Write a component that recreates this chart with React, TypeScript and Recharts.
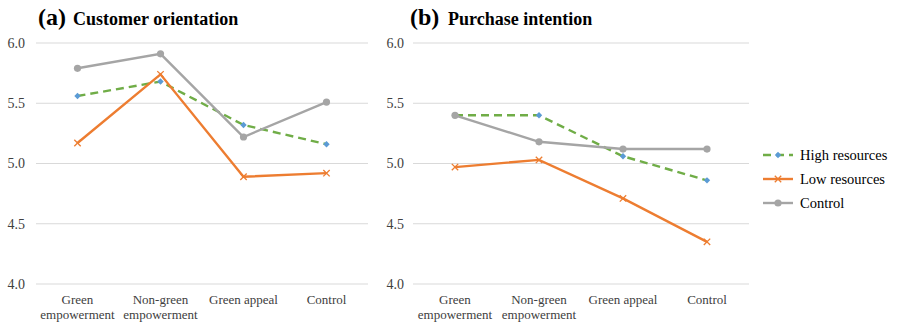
import { CartesianGrid, Line, LineChart, XAxis, YAxis } from 'recharts'

const categories = ['Green empowerment', 'Non-green empowerment', 'Green appeal', 'Control']
const tickLines = [['Green', 'empowerment'], ['Non-green', 'empowerment'], ['Green appeal'], ['Control']]
const yTicks = [4, 4.5, 5, 5.5, 6]

const orientationHigh = [5.56, 5.68, 5.32, 5.16]
const orientationLow = [5.17, 5.74, 4.89, 4.92]
const orientationControl = [5.79, 5.91, 5.22, 5.51]

const intentionHigh = [5.4, 5.4, 5.06, 4.86]
const intentionLow = [4.97, 5.03, 4.71, 4.35]
const intentionControl = [5.4, 5.18, 5.12, 5.12]

const seriesNames = ['High resources', 'Low resources', 'Control']

const FONT = "'Liberation Serif', 'DejaVu Serif', serif"
const GREEN = '#70ad47'
const BLUE = '#5b9bd5'
const ORANGE = '#ed7d31'
const GRAY = '#a5a5a5'

const buildRows = (high: number[], low: number[], control: number[]) =>
  categories.map((c, i) => ({ name: c, high: high[i], low: low[i], control: control[i] }))

const orientationRows = buildRows(orientationHigh, orientationLow, orientationControl)
const intentionRows = buildRows(intentionHigh, intentionLow, intentionControl)

function DiamondDot(props: any) {
  const { cx, cy } = props
  if (cx == null || cy == null) return null
  const s = 3.2
  return <polygon points={`${cx},${cy - s} ${cx + s},${cy} ${cx},${cy + s} ${cx - s},${cy}`} fill={BLUE} />
}

function CrossDot(props: any) {
  const { cx, cy } = props
  if (cx == null || cy == null) return null
  const s = 3.2
  return (
    <g stroke={ORANGE} strokeWidth={1.3}>
      <line x1={cx - s} y1={cy - s} x2={cx + s} y2={cy + s} />
      <line x1={cx - s} y1={cy + s} x2={cx + s} y2={cy - s} />
    </g>
  )
}

function CircleDot(props: any) {
  const { cx, cy } = props
  if (cx == null || cy == null) return null
  return <circle cx={cx} cy={cy} r={3.6} fill={GRAY} />
}

function CategoryTick(props: any) {
  const { x, y, index } = props
  const lines = tickLines[index] || []
  return (
    <text x={x} y={y} textAnchor="middle" fill="#404040" fontSize={13} style={{ fontFamily: FONT }}>
      {lines.map((t, i) => (
        <tspan key={i} x={x} y={y + 20 + i * 15}>
          {t}
        </tspan>
      ))}
    </text>
  )
}

interface PanelProps {
  rows: typeof orientationRows
  left: number
  marginLeft: number
  marginRight: number
  pad: number
  tickMargin: number
}

function Panel({ rows, left, marginLeft, marginRight, pad, tickMargin }: PanelProps) {
  return (
    <div style={{ position: 'absolute', left, top: 0 }}>
      <LineChart
        width={380}
        height={326}
        data={rows}
        margin={{ top: 43, right: marginRight, bottom: 2, left: marginLeft }}
      >
        <CartesianGrid vertical={false} stroke="#d9d9d9" />
        <XAxis
          dataKey="name"
          axisLine={false}
          tickLine={false}
          tickSize={0}
          tickMargin={0}
          height={40}
          padding={{ left: pad, right: pad }}
          interval={0}
          tick={<CategoryTick />}
        />
        <YAxis
          domain={[4, 6]}
          ticks={yTicks}
          width={30}
          axisLine={false}
          tickLine={false}
          tickSize={0}
          tickMargin={tickMargin}
          tickFormatter={(v: number) => v.toFixed(1)}
          tick={{ fill: '#404040', fontSize: 14, style: { fontFamily: FONT } }}
        />
        <Line
          dataKey="high"
          stroke={GREEN}
          strokeWidth={2.4}
          strokeDasharray="8 5"
          dot={<DiamondDot />}
          activeDot={false}
          isAnimationActive={false}
        />
        <Line
          dataKey="low"
          stroke={ORANGE}
          strokeWidth={2.4}
          dot={<CrossDot />}
          activeDot={false}
          isAnimationActive={false}
        />
        <Line
          dataKey="control"
          stroke={GRAY}
          strokeWidth={2.4}
          dot={<CircleDot />}
          activeDot={false}
          isAnimationActive={false}
        />
      </LineChart>
    </div>
  )
}

export default function App() {
  const legendY = [155, 179, 203]
  return (
    <div
      style={{
        position: 'absolute',
        left: 0,
        top: 0,
        width: 898,
        height: 326,
        background: '#fff',
        fontFamily: FONT,
      }}
    >
      <Panel rows={orientationRows} left={0} marginLeft={6} marginRight={12} pad={41.5} tickMargin={11} />
      <Panel rows={intentionRows} left={380} marginLeft={3} marginRight={11} pad={42} tickMargin={9} />
      <svg
        width={898}
        height={326}
        style={{ position: 'absolute', left: 0, top: 0, pointerEvents: 'none', fontFamily: FONT }}
      >
        <text x={38} y={25} fontSize={24} fontWeight="bold" fill="#000">(a)</text>
        <text x={73} y={25} fontSize={18} fontWeight="bold" fill="#000">Customer orientation</text>
        <text x={410} y={25} fontSize={24} fontWeight="bold" fill="#000">(b)</text>
        <text x={448} y={25} fontSize={18} fontWeight="bold" fill="#000">Purchase intention</text>
        {seriesNames.map((name, i) => {
          const y = legendY[i]
          return (
            <g key={name}>
              {i === 0 && (
                <>
                  <line x1={763} y1={y} x2={793} y2={y} stroke={GREEN} strokeWidth={2.4} strokeDasharray="8 5" />
                  <DiamondDot cx={778} cy={y} />
                </>
              )}
              {i === 1 && (
                <>
                  <line x1={763} y1={y} x2={793} y2={y} stroke={ORANGE} strokeWidth={2.4} />
                  <CrossDot cx={778} cy={y} />
                </>
              )}
              {i === 2 && (
                <>
                  <line x1={763} y1={y} x2={793} y2={y} stroke={GRAY} strokeWidth={2.4} />
                  <CircleDot cx={778} cy={y} />
                </>
              )}
              <text x={800} y={y + 5} fontSize={14.5} fill="#000">{name}</text>
            </g>
          )
        })}
      </svg>
    </div>
  )
}
